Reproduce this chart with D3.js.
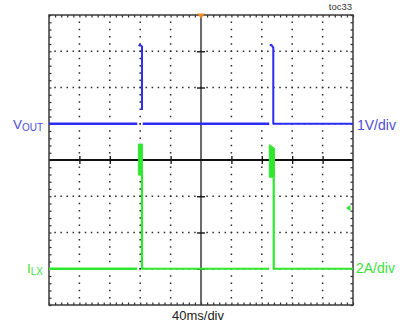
<!DOCTYPE html>
<html><head><meta charset="utf-8">
<script src="https://cdn.jsdelivr.net/npm/d3@7"></script>
<style>html,body{margin:0;padding:0;background:#fff;}svg{display:block;}</style>
</head><body>
<svg id="c" width="402" height="329"></svg>
<script>
// ---- data ----
const timeDomainMs = [0, 400];          // 40 ms/div x 10 div
const divDomain = [-4, 4];              // 8 vertical divisions
const voutScaleVPerDiv = 1;             // 1V/div
const voutOffsetDiv = 1;
const ilxScaleAPerDiv = 2;              // 2A/div
const ilxOffsetDiv = -3;
const ilxTriggerA = 3.35;

// VOUT (V, relative to its baseline) – separate trace segments
const voutSeg1T = [0, 116.2];
const voutSeg1V = [0, 0];
const voutSeg2T = [118.4, 119.5, 122.4, 122.4];
const voutSeg2V = [2.14, 2.18, 2.13, 0.38];
const voutSeg3T = [123.3, 289.8];
const voutSeg3V = [0, 0];
const voutSeg4T = [290.8, 292.5, 295.1, 295.1, 400];
const voutSeg4V = [2.15, 2.18, 2.1, 0, 0];

// ILX (A, relative to its baseline)
const ilxSeg1T = [0, 115.9];
const ilxSeg1A = [0, 0];
const ilxBand1T = [117.6, 122.9];
const ilxBand1Hi = [6.88, 6.88];
const ilxBand1Lo = [5.17, 5.17];
const ilxSeg2T = [122.4, 122.4, 289.6];
const ilxSeg2A = [5.17, 0, 0];
const ilxBand2T = [289.9, 296.6];
const ilxBand2Hi = [6.85, 6.65];
const ilxBand2Lo = [5.05, 5.05];
const ilxSeg3T = [295.7, 295.7, 400];
const ilxSeg3A = [5.05, 0, 0];

const labels = {vout: "V", voutSub: "OUT", ilx: "I", ilxSub: "LX",
  vScale: "1V/div", iScale: "2A/div", tScale: "40ms/div", id: "toc33"};

// ---- layout ----
const L = 49, R = 353, T = 15, B = 305;
const x = d3.scaleLinear().domain(timeDomainMs).range([L, R]);
const y = d3.scaleLinear().domain(divDomain).range([B, T]);
const svg = d3.select("#c");

const blue = "#2c2cf4", blueTxt = "#4d4dd6";
const green = "#2ee82e", greenTxt = "#3ee03e";
const gridCol = "#2a2a2a";

// dotted grid
const majorX = d3.range(1, 10).filter(k => k !== 5).map(k => k * 40);
const majorY = d3.range(-3, 4).filter(k => k !== 0);
const minorX = d3.range(0, 401, 8);
const minorY = d3.range(-4, 4.01, 0.2);
const g = svg.append("g");
majorX.forEach(t => {
  g.selectAll(null).data(minorY.slice(1, -1)).enter().append("rect")
    .attr("x", x(t) - 0.75).attr("y", d => y(d) - 0.75)
    .attr("width", 1.5).attr("height", 1.5).attr("fill", gridCol);
});
majorY.forEach(dv => {
  g.selectAll(null).data(minorX.slice(1, -1)).enter().append("rect")
    .attr("x", d => x(d) - 0.75).attr("y", y(dv) - 0.75)
    .attr("width", 1.5).attr("height", 1.5).attr("fill", gridCol);
});

// frame ticks via axes
const tk = 2.5;
svg.append("g").attr("transform", `translate(0,${T})`)
  .call(d3.axisBottom(x).tickValues(minorX).tickSize(tk).tickFormat(""))
  .call(s => s.select(".domain").remove()).selectAll("line").attr("stroke", gridCol).attr("stroke-width", 1.2);
svg.append("g").attr("transform", `translate(0,${B})`)
  .call(d3.axisTop(x).tickValues(minorX).tickSize(tk).tickFormat(""))
  .call(s => s.select(".domain").remove()).selectAll("line").attr("stroke", gridCol).attr("stroke-width", 1.2);
svg.append("g").attr("transform", `translate(${L},0)`)
  .call(d3.axisRight(y).tickValues(minorY).tickSize(tk).tickFormat(""))
  .call(s => s.select(".domain").remove()).selectAll("line").attr("stroke", gridCol).attr("stroke-width", 1.2);
svg.append("g").attr("transform", `translate(${R},0)`)
  .call(d3.axisLeft(y).tickValues(minorY).tickSize(tk).tickFormat(""))
  .call(s => s.select(".domain").remove()).selectAll("line").attr("stroke", gridCol).attr("stroke-width", 1.2);

// center lines
svg.append("line").attr("x1", x(200)).attr("x2", x(200)).attr("y1", T).attr("y2", B)
  .attr("stroke", "#3a3a3a").attr("stroke-width", 1.5);
svg.append("line").attr("x1", L).attr("x2", R).attr("y1", y(0)).attr("y2", y(0))
  .attr("stroke", "#111").attr("stroke-width", 1.8);
svg.append("g").attr("transform", `translate(0,${y(0)})`)
  .call(d3.axisBottom(x).tickValues(majorX).tickSize(4).tickFormat(""))
  .call(s => s.select(".domain").remove()).selectAll("line")
  .attr("y1", -4).attr("stroke", "#111").attr("stroke-width", 1.3);
svg.append("g").attr("transform", `translate(${x(200)},0)`)
  .call(d3.axisRight(y).tickValues(majorY).tickSize(4).tickFormat(""))
  .call(s => s.select(".domain").remove()).selectAll("line")
  .attr("x1", -4).attr("stroke", "#222").attr("stroke-width", 1.5);

// frame
svg.append("rect").attr("x", L).attr("y", T).attr("width", R - L).attr("height", B - T)
  .attr("fill", "none").attr("stroke", "#3a3a3a").attr("stroke-width", 1.5);

// traces
const vY = v => y(voutOffsetDiv + v / voutScaleVPerDiv);
const iY = a => y(ilxOffsetDiv + a / ilxScaleAPerDiv);
const line = d3.line();
function seg(ts, vs, fy, col, w) {
  svg.append("path").attr("d", line(ts.map((t, i) => [x(t), fy(vs[i])])))
    .attr("fill", "none").attr("stroke", col).attr("stroke-width", w)
    .attr("stroke-linejoin", "round");
}
function band(ts, hi, lo, fy, col) {
  const a = d3.area().x(d => x(d.t)).y0(d => fy(d.lo)).y1(d => fy(d.hi));
  svg.append("path").attr("d", a(ts.map((t, i) => ({t, hi: hi[i], lo: lo[i]}))))
    .attr("fill", col).attr("stroke", col).attr("stroke-width", 1);
}
seg(voutSeg1T, voutSeg1V, vY, blue, 2.6);
seg(voutSeg2T, voutSeg2V, vY, blue, 2);
seg(voutSeg3T, voutSeg3V, vY, blue, 2.6);
seg(voutSeg4T, voutSeg4V, vY, blue, 2);
seg(ilxSeg1T, ilxSeg1A, iY, green, 2.6);
band(ilxBand1T, ilxBand1Hi, ilxBand1Lo, iY, green);
seg(ilxSeg2T, ilxSeg2A, iY, green, 2.2);
band(ilxBand2T, ilxBand2Hi, ilxBand2Lo, iY, green);
seg(ilxSeg3T, ilxSeg3A, iY, green, 2.2);

// markers
svg.append("path").attr("d", `M${x(200)-4},${T-1.5}L${x(200)+4},${T-1.5}L${x(200)},${T+3.5}Z`)
  .attr("fill", "#f08a20");
const my = iY(ilxTriggerA);
svg.append("path").attr("d", `M${R-7},${my}L${R-2.5},${my-3}L${R-2.5},${my+3}Z`).attr("fill", green);

// text
const font = "Liberation Sans, Arial, sans-serif";
const tv = svg.append("text").attr("x", 43).attr("y", 129).attr("text-anchor", "end")
  .attr("font-family", font).attr("fill", blueTxt);
tv.append("tspan").attr("font-size", 13.5).text(labels.vout);
tv.append("tspan").attr("font-size", 10).attr("dy", 1.5).text(labels.voutSub);
const ti = svg.append("text").attr("x", 43).attr("y", 273).attr("text-anchor", "end")
  .attr("font-family", font).attr("fill", greenTxt);
ti.append("tspan").attr("font-size", 13.5).text(labels.ilx);
ti.append("tspan").attr("font-size", 10).attr("dy", 1.5).text(labels.ilxSub);
svg.append("text").attr("x", 357).attr("y", 129.5).attr("font-family", font).attr("font-size", 14)
  .attr("fill", blueTxt).text(labels.vScale);
svg.append("text").attr("x", 356).attr("y", 272.5).attr("font-family", font).attr("font-size", 14)
  .attr("fill", greenTxt).text(labels.iScale);
svg.append("text").attr("x", 198).attr("y", 320).attr("text-anchor", "middle").attr("font-family", font)
  .attr("font-size", 13).attr("fill", "#222").text(labels.tScale);
svg.append("text").attr("x", 352).attr("y", 10).attr("text-anchor", "end").attr("font-family", font)
  .attr("font-size", 9.5).attr("fill", "#333").text(labels.id);
</script>
</body></html>
